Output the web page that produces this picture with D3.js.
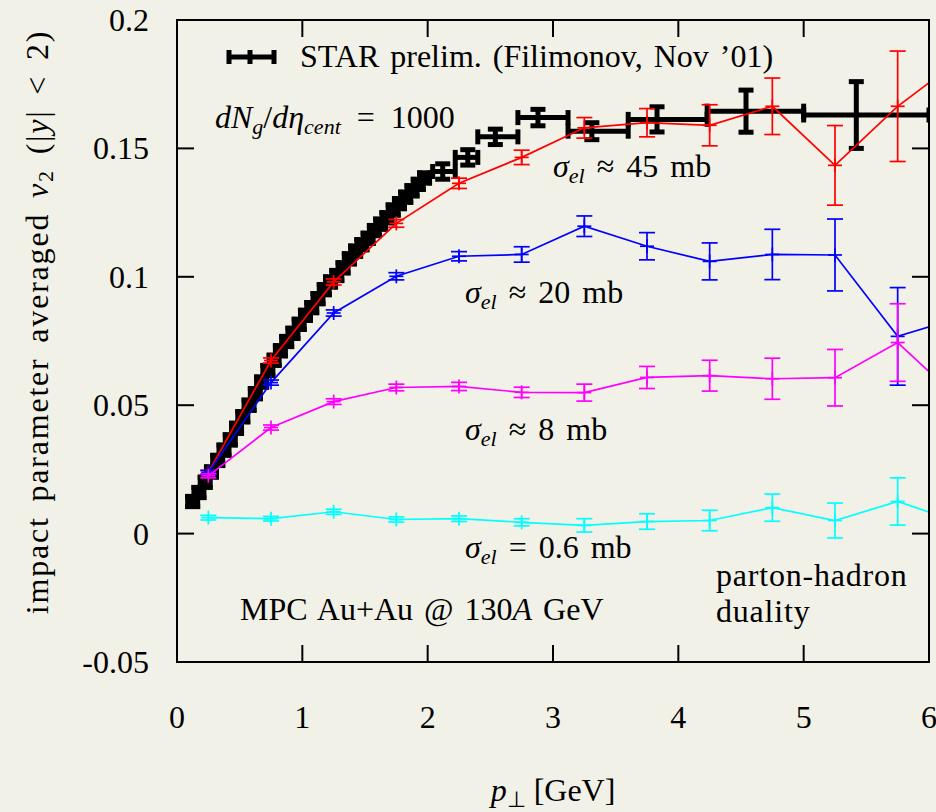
<!DOCTYPE html>
<html>
<head>
<meta charset="utf-8">
<script src="https://cdn.jsdelivr.net/npm/d3@7"></script>
<style>
body { margin: 0; background: #f2f1e7; }
svg { display: block; }
text { font-family: "Liberation Serif", "Times New Roman", serif; fill: #000; }
</style>
</head>
<body>
<svg id="chart" width="936" height="812"></svg>
<script>
// model points (MPC), pt bins of 0.5 GeV
var ptModel = [0.25, 0.75, 1.25, 1.75, 2.25, 2.75, 3.25, 3.75, 4.25, 4.75, 5.25, 5.75, 6.25];

var v45 = [0.0238, 0.0674, 0.0980, 0.1208, 0.1364, 0.1465, 0.1580, 0.1600, 0.1590, 0.1664, 0.1434, 0.1664, 0.1847];
var e45 = [0.0008, 0.0010, 0.0012, 0.0015, 0.0020, 0.0028, 0.0040, 0.0055, 0.0080, 0.0110, 0.0155, 0.0215, 0.0300];

var v20 = [0.0238, 0.0588, 0.0859, 0.1002, 0.1080, 0.1087, 0.1197, 0.1119, 0.1060, 0.1087, 0.1085, 0.0768, 0.0842];
var e20 = [0.0008, 0.0010, 0.0012, 0.0014, 0.0018, 0.0030, 0.0040, 0.0053, 0.0072, 0.0098, 0.0140, 0.0190, 0.0250];

var v8 = [0.0225, 0.0413, 0.0514, 0.0569, 0.0573, 0.0550, 0.0549, 0.0608, 0.0615, 0.0603, 0.0607, 0.0744, 0.0518];
var e8 = [0.0008, 0.0010, 0.0011, 0.0013, 0.0016, 0.0020, 0.0033, 0.0043, 0.0060, 0.0080, 0.0110, 0.0151, 0.0200];

var v06 = [0.0062, 0.0058, 0.0085, 0.0055, 0.0058, 0.0044, 0.0032, 0.0047, 0.0051, 0.0101, 0.0051, 0.0125, 0.0043];
var e06 = [0.0009, 0.0009, 0.0010, 0.0010, 0.0011, 0.0014, 0.0026, 0.0030, 0.0040, 0.0053, 0.0068, 0.0092, 0.0120];

// STAR preliminary data
var starPt = [0.125, 0.175, 0.225, 0.275, 0.325, 0.375, 0.425, 0.475, 0.525, 0.575,
              0.625, 0.675, 0.725, 0.775, 0.825, 0.875, 0.925, 0.975, 1.025, 1.075,
              1.125, 1.175, 1.225, 1.275, 1.325, 1.375, 1.425, 1.475, 1.525, 1.575,
              1.625, 1.675, 1.725, 1.775, 1.825, 1.875, 1.925, 1.975,
              2.12, 2.32, 2.54, 2.88, 3.31, 3.83, 4.54, 5.42];
var starV = [0.0125, 0.0160, 0.0200, 0.0240, 0.0285, 0.0325, 0.0365, 0.0410, 0.0455, 0.0500,
             0.0545, 0.0590, 0.0635, 0.0675, 0.0712, 0.0748, 0.0780, 0.0815, 0.0850, 0.0880,
             0.0915, 0.0950, 0.0980, 0.1005, 0.1035, 0.1070, 0.1100, 0.1125, 0.1150, 0.1180,
             0.1205, 0.1230, 0.1260, 0.1285, 0.1310, 0.1335, 0.1360, 0.1385,
             0.1410, 0.1465, 0.1545, 0.1620, 0.1567, 0.1613, 0.1645, 0.1630];
var starErr = [0.0020, 0.0020, 0.0020, 0.0020, 0.0020, 0.0020, 0.0020, 0.0020, 0.0020, 0.0020,
               0.0020, 0.0020, 0.0020, 0.0020, 0.0020, 0.0020, 0.0020, 0.0020, 0.0020, 0.0020,
               0.0020, 0.0020, 0.0020, 0.0020, 0.0020, 0.0020, 0.0020, 0.0020, 0.0020, 0.0020,
               0.0020, 0.0020, 0.0020, 0.0020, 0.0020, 0.0020, 0.0020, 0.0020,
               0.0030, 0.0030, 0.0030, 0.0032, 0.0033, 0.0049, 0.0082, 0.0130];
var starLo = [0.085, 0.135, 0.185, 0.235, 0.285, 0.335, 0.385, 0.435, 0.485, 0.535,
              0.585, 0.635, 0.685, 0.735, 0.785, 0.835, 0.885, 0.935, 0.985, 1.035,
              1.085, 1.135, 1.185, 1.235, 1.285, 1.335, 1.385, 1.435, 1.485, 1.535,
              1.585, 1.635, 1.685, 1.735, 1.785, 1.835, 1.885, 1.935,
              2.04, 2.22, 2.40, 2.72, 3.12, 3.60, 4.23, 5.00];
var starHi = [0.165, 0.215, 0.265, 0.315, 0.365, 0.415, 0.465, 0.515, 0.565, 0.615,
              0.665, 0.715, 0.765, 0.815, 0.865, 0.915, 0.965, 1.015, 1.065, 1.115,
              1.165, 1.215, 1.265, 1.315, 1.365, 1.415, 1.465, 1.515, 1.565, 1.615,
              1.665, 1.715, 1.765, 1.815, 1.865, 1.915, 1.965, 2.015,
              2.22, 2.40, 2.72, 3.12, 3.60, 4.23, 5.00, 6.00];

var xTicks = [0, 1, 2, 3, 4, 5, 6];
var yTicks = [-0.05, 0, 0.05, 0.1, 0.15, 0.2];
var yTickLabels = ["-0.05", "0", "0.05", "0.1", "0.15", "0.2"];

var models = [
    {name: "45", v: v45, e: e45, color: "#ff0000"},
    {name: "20", v: v20, e: e20, color: "#0000ff"},
    {name: "8", v: v8, e: e8, color: "#ff00ff"},
    {name: "0.6", v: v06, e: e06, color: "#00ffff"}
];

var svg = d3.select("#chart");
var pLeft = 177, pRight = 929, pTop = 20, pBottom = 662;

var x = d3.scaleLinear().domain([0, 6]).range([pLeft, pRight]);
var y = d3.scaleLinear().domain([-0.05, 0.2]).range([pBottom, pTop]);

svg.append("defs").append("clipPath").attr("id", "plotclip")
    .append("rect").attr("x", pLeft).attr("y", pTop)
    .attr("width", pRight - pLeft).attr("height", pBottom - pTop);

var plot = svg.append("g").attr("clip-path", "url(#plotclip)");

// STAR points: thick xy error bars
var star = starPt.map(function(p, i) {
    return {pt: p, v: starV[i], dv: starErr[i], lo: starLo[i], hi: starHi[i]};
});
var sg = plot.append("g").attr("stroke", "#000").attr("stroke-width", 5).attr("fill", "none");
star.forEach(function(d) {
    var cy = y(d.v), cx = x(d.pt);
    sg.append("line").attr("x1", x(d.lo)).attr("x2", x(d.hi)).attr("y1", cy).attr("y2", cy);
    sg.append("line").attr("x1", x(d.lo)).attr("x2", x(d.lo)).attr("y1", cy - 7.5).attr("y2", cy + 7.5);
    sg.append("line").attr("x1", x(d.hi)).attr("x2", x(d.hi)).attr("y1", cy - 7.5).attr("y2", cy + 7.5);
    sg.append("line").attr("x1", cx).attr("x2", cx).attr("y1", y(d.v - d.dv)).attr("y2", y(d.v + d.dv));
    sg.append("line").attr("x1", cx - 7.5).attr("x2", cx + 7.5).attr("y1", y(d.v - d.dv)).attr("y2", y(d.v - d.dv));
    sg.append("line").attr("x1", cx - 7.5).attr("x2", cx + 7.5).attr("y1", y(d.v + d.dv)).attr("y2", y(d.v + d.dv));
});

// model curves
var line = d3.line().x(function(d) { return x(d.pt); }).y(function(d) { return y(d.v); });
models.forEach(function(m) {
    var pts = ptModel.map(function(p, i) { return {pt: p, v: m.v[i], e: m.e[i]}; });
    var g = plot.append("g").attr("stroke", m.color).attr("stroke-width", 1.7).attr("fill", "none");
    g.append("path").attr("d", line(pts));
    pts.forEach(function(d) {
        var cx = x(d.pt), cy = y(d.v);
        g.append("line").attr("x1", cx).attr("x2", cx).attr("y1", y(d.v - d.e)).attr("y2", y(d.v + d.e));
        g.append("line").attr("x1", cx - 8).attr("x2", cx + 8).attr("y1", y(d.v - d.e)).attr("y2", y(d.v - d.e));
        g.append("line").attr("x1", cx - 8).attr("x2", cx + 8).attr("y1", y(d.v + d.e)).attr("y2", y(d.v + d.e));
        // "+" point marker
        g.append("line").attr("x1", cx - 7).attr("x2", cx + 7).attr("y1", cy).attr("y2", cy);
        g.append("line").attr("x1", cx).attr("x2", cx).attr("y1", cy - 7).attr("y2", cy + 7);
    });
});

// frame and ticks
var axisG = svg.append("g").attr("stroke", "#000").attr("stroke-width", 2).attr("fill", "none");
axisG.append("rect").attr("x", pLeft).attr("y", pTop).attr("width", pRight - pLeft).attr("height", pBottom - pTop);
xTicks.forEach(function(t) {
    axisG.append("line").attr("x1", x(t)).attr("x2", x(t)).attr("y1", pBottom).attr("y2", pBottom - 17);
    axisG.append("line").attr("x1", x(t)).attr("x2", x(t)).attr("y1", pTop).attr("y2", pTop + 17);
});
yTicks.forEach(function(t) {
    axisG.append("line").attr("x1", pLeft).attr("x2", pLeft + 17).attr("y1", y(t)).attr("y2", y(t));
    axisG.append("line").attr("x1", pRight).attr("x2", pRight - 17).attr("y1", y(t)).attr("y2", y(t));
});

var fs = 32;
svg.append("g").selectAll("text").data(xTicks).enter().append("text")
    .attr("x", function(d) { return x(d); })
    .attr("y", 728)
    .attr("text-anchor", "middle")
    .attr("font-size", fs)
    .text(function(d) { return d; });

svg.append("g").selectAll("text").data(yTicks).enter().append("text")
    .attr("x", 149)
    .attr("y", function(d) { return y(d) + 11; })
    .attr("text-anchor", "end")
    .attr("font-size", fs)
    .text(function(d, i) { return yTickLabels[i]; });

// axis titles
var xt = svg.append("text").attr("x", 553).attr("y", 801).attr("text-anchor", "middle").attr("font-size", fs);
xt.append("tspan").attr("font-style", "italic").text("p");
xt.append("tspan").attr("font-size", 22).attr("dy", 6).text("\u22A5");
xt.append("tspan").attr("dy", -6).text(" [GeV]");

var yt = svg.append("text").attr("transform", "translate(48,322) rotate(-90)")
    .attr("text-anchor", "middle").attr("font-size", fs)
    .attr("letter-spacing", 1.8).attr("word-spacing", 5);
yt.append("tspan").text("impact parameter averaged ");
yt.append("tspan").attr("font-style", "italic").text("v");
yt.append("tspan").attr("font-size", 22).attr("dy", 5).text("2");
yt.append("tspan").attr("dy", -5).text(" (|");
yt.append("tspan").attr("font-style", "italic").text("y");
yt.append("tspan").text("| < 2)");

// legend
var lg = svg.append("g").attr("stroke", "#000").attr("stroke-width", 5);
lg.append("line").attr("x1", 229).attr("x2", 274).attr("y1", 57).attr("y2", 57);
lg.append("line").attr("x1", 229).attr("x2", 229).attr("y1", 50).attr("y2", 64);
lg.append("line").attr("x1", 274).attr("x2", 274).attr("y1", 50).attr("y2", 64);
lg.append("line").attr("x1", 250).attr("x2", 250).attr("y1", 50).attr("y2", 64);
svg.append("text").attr("x", 300).attr("y", 67).attr("font-size", fs)
    .attr("word-spacing", 3).text("STAR prelim. (Filimonov, Nov \u201901)");

// dN/deta label
var dn = svg.append("text").attr("x", 215).attr("y", 128).attr("font-size", fs).attr("word-spacing", 8);
dn.append("tspan").attr("font-style", "italic").text("dN");
dn.append("tspan").attr("font-style", "italic").attr("font-size", 22).attr("dy", 6).text("g");
dn.append("tspan").attr("dy", -6).text("/");
dn.append("tspan").attr("font-style", "italic").text("d\u03B7");
dn.append("tspan").attr("font-style", "italic").attr("font-size", 22).attr("dy", 6).text("cent");
dn.append("tspan").attr("dy", -6).text(" = 1000");

// sigma labels
var sigmaLabels = [
    {x: 553, y: 177, rel: " \u2248 45 mb"},
    {x: 465, y: 303, rel: " \u2248 20 mb"},
    {x: 465, y: 440, rel: " \u2248 8 mb"},
    {x: 465, y: 558, rel: " = 0.6 mb"}
];
sigmaLabels.forEach(function(s) {
    var t = svg.append("text").attr("x", s.x).attr("y", s.y).attr("font-size", fs).attr("word-spacing", 4);
    t.append("tspan").attr("font-style", "italic").text("\u03C3");
    t.append("tspan").attr("font-style", "italic").attr("font-size", 22).attr("dy", 6).text("el");
    t.append("tspan").attr("dy", -6).text(s.rel);
});

var mpc = svg.append("text").attr("x", 240).attr("y", 620).attr("font-size", fs).attr("word-spacing", 3);
mpc.append("tspan").text("MPC Au+Au @ 130");
mpc.append("tspan").attr("font-style", "italic").text("A");
mpc.append("tspan").text(" GeV");

svg.append("text").attr("x", 716).attr("y", 586).attr("font-size", fs).attr("letter-spacing", 0.8).text("parton-hadron");
svg.append("text").attr("x", 716).attr("y", 622).attr("font-size", fs).attr("letter-spacing", 0.8).text("duality");
</script>
</body>
</html>
